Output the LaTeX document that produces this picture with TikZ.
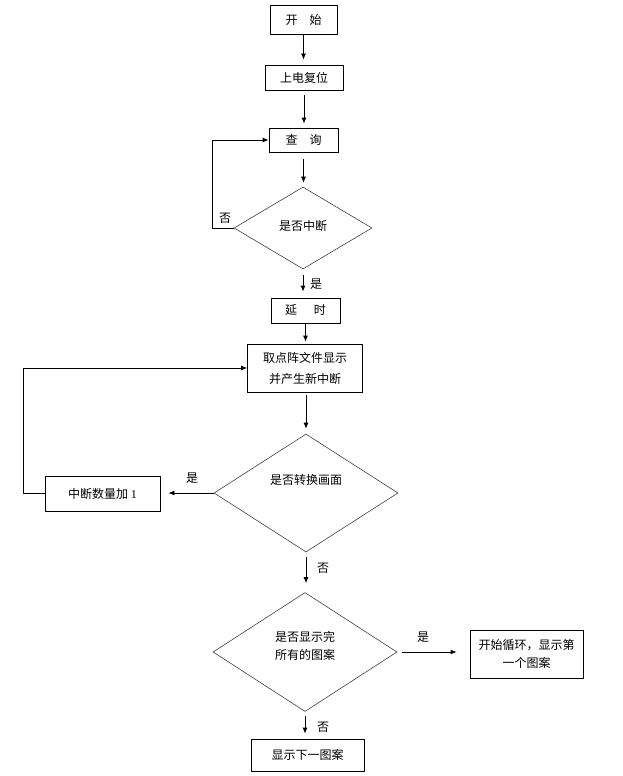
\documentclass[tikz,border=0pt]{standalone}
\usepackage{fontspec}
\setmainfont{Liberation Serif}
\newfontfamily\cjk{Noto Sans CJK SC}
\usetikzlibrary{shapes.geometric,arrows.meta}
\begin{document}
\begin{tikzpicture}[x=1pt,y=-1pt,
  every node/.style={font=\cjk\fontsize{12}{14}\selectfont},
  box/.style={draw,line width=0.8pt,rectangle,inner sep=0pt,align=center},
  dia/.style={draw=black!75,line width=0.6pt,diamond,inner sep=0pt,shape aspect=1},
  arr/.style={line width=0.8pt,-{Latex[length=6pt,width=5pt]}},
  lbl/.style={inner sep=0pt}]
\useasboundingbox (0,0) rectangle (623,776);
% boxes
\node[box,minimum width=67pt,minimum height=29pt] (start) at (303.5,19.5) {开\quad 始};
\node[box,minimum width=78pt,minimum height=25pt] (reset) at (304,77.5) {上电复位};
\node[box,minimum width=69pt,minimum height=24pt] (query) at (303.5,140) {查\quad 询};
\node[dia,minimum width=138pt,minimum height=82pt] (d1) at (303,228) {};
\node[lbl] (t1) at (303,226) {是否中断};
\node[box,minimum width=69pt,minimum height=25pt] (delay) at (305.5,310.5) {延\hspace{1.4em}时};
\node[box,minimum width=115pt,minimum height=48pt] (fetch) at (305,368) {取点阵文件显示\\[7pt]并产生新中断};
\node[dia,minimum width=184pt,minimum height=118pt] (d2) at (306,493) {};
\node[lbl] (t2) at (306,480) {是否转换画面};
\node[box,minimum width=115pt,minimum height=35pt] (inc) at (102.5,493.5) {中断数量加 {\rmfamily 1}};
\node[dia,minimum width=184pt,minimum height=119pt] (d3) at (305,652) {};
\node[lbl,align=center] (t3) at (305,646) {是否显示完\\[4pt]所有的图案};
\node[box,minimum width=113pt,minimum height=48pt] (loop) at (526.5,654) {开始循环，显示第\\[4pt]一个图案};
\node[box,minimum width=113pt,minimum height=32pt] (next) at (307.5,755) {显示下一图案};
% coordinates for loops
\coordinate (lp1) at (212,0);
\coordinate (lp2) at (23,0);
% connectors
\draw[arr,shorten >=5pt] (start.south) -- (start.south |- reset.north);
\draw[arr,shorten <=5pt,shorten >=4pt] (reset.south) -- (reset.south |- query.north);
\draw[arr,shorten <=7pt,shorten >=4pt] (query.south) -- (query.south |- d1.north);
\draw[arr] (d1.west) -- (d1.west -| lp1) |- (query.west);
\node[lbl] (n1) at (225,218) {否};
\draw[arr,shorten <=6pt,shorten >=6pt] (d1.south) -- (d1.south |- delay.north);
\node[lbl] (y1) at (316,284) {是};
\draw[arr,shorten >=2pt] (delay.south) -- (delay.south |- fetch.north);
\draw[arr] (inc.west) -- (inc.west -| lp2) |- (fetch.west);
\draw[arr,shorten <=3pt,shorten >=5pt] (fetch.south -| d2.north) -- (d2.north);
\draw[arr,shorten >=8pt] (d2.west) -- (d2.west -| inc.east);
\node[lbl] (y2) at (192,478) {是};
\draw[arr,shorten <=5pt,shorten >=9pt] (d2.south) -- (d2.south |- d3.north);
\node[lbl] (n2) at (323,568) {否};
\draw[arr,shorten <=5pt,shorten >=13pt] (d3.east) -- (d3.east -| loop.west);
\node[lbl] (y3) at (423,637) {是};
\draw[arr,shorten <=4pt,shorten >=5pt] (d3.south) -- (d3.south |- next.north);
\node[lbl] (n3) at (323,727) {否};
\end{tikzpicture}
\end{document}
